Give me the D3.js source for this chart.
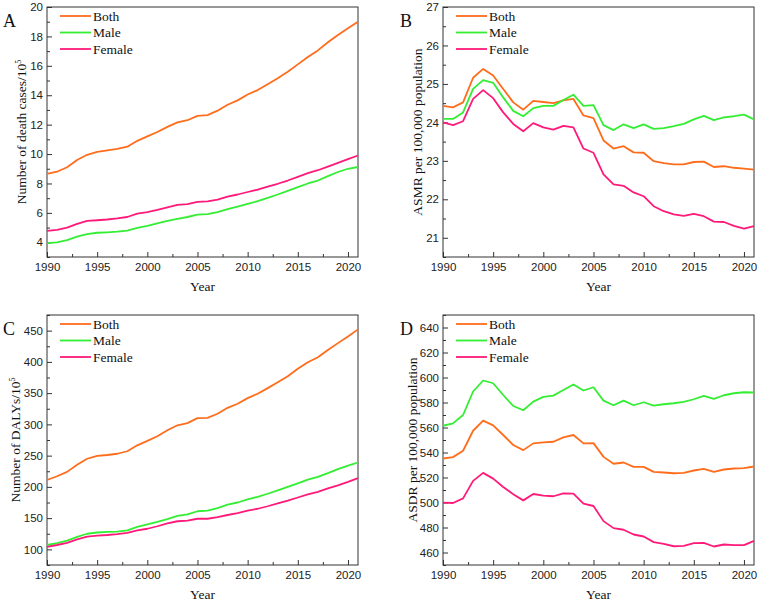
<!DOCTYPE html>
<html>
<head>
<meta charset="utf-8">
<title>Burden trends 1990-2021</title>
<script src="https://cdn.jsdelivr.net/npm/d3@7/dist/d3.min.js"></script>
<style>
    body { margin: 0; background: #fff; }
    svg { font-family: "Liberation Serif", "Times New Roman", serif; }
    .tick text { fill: #222; }
    .tick line { stroke: #333; }
</style>
</head>
<body>
<div id="chart"></div>
<script>
const years = d3.range(1990, 2022);
const seriesNames = ["Both", "Male", "Female"];
const seriesColors = ["#ff6d1c", "#33ee33", "#ff1a7a"];

// A: number of death cases / 10^5
const deathsBoth = [8.65, 8.8, 9.1, 9.6, 9.95, 10.15, 10.25, 10.35, 10.5, 10.9, 11.2, 11.5, 11.85, 12.15, 12.3, 12.6,
    12.65, 12.95, 13.35, 13.65, 14.05, 14.35, 14.75, 15.15, 15.6, 16.1, 16.6, 17.05, 17.6, 18.1, 18.55, 19.0];
const deathsMale = [3.95, 4.0, 4.15, 4.38, 4.55, 4.65, 4.68, 4.72, 4.8, 4.98, 5.12, 5.28, 5.45, 5.6, 5.72, 5.88,
    5.92, 6.05, 6.25, 6.42, 6.62, 6.8, 7.02, 7.25, 7.5, 7.75, 8.0, 8.2, 8.5, 8.78, 9.0, 9.12];
const deathsFemale = [4.78, 4.85, 5.0, 5.25, 5.45, 5.5, 5.55, 5.62, 5.72, 5.95, 6.05, 6.2, 6.38, 6.55, 6.6, 6.75,
    6.78, 6.9, 7.1, 7.25, 7.42, 7.58, 7.78, 7.98, 8.2, 8.45, 8.7, 8.9, 9.15, 9.4, 9.65, 9.9];

// B: ASMR per 100,000
const asmrBoth = [24.43, 24.39, 24.52, 25.16, 25.39, 25.22, 24.87, 24.52, 24.33, 24.56, 24.53, 24.5, 24.57, 24.61, 24.18, 24.11,
    23.53, 23.32, 23.38, 23.22, 23.21, 22.99, 22.94, 22.91, 22.91, 22.97, 22.98, 22.84, 22.86, 22.82, 22.8, 22.77];
const asmrMale = [24.09, 24.09, 24.26, 24.87, 25.1, 25.03, 24.65, 24.3, 24.16, 24.37, 24.43, 24.43, 24.58, 24.72, 24.43, 24.45,
    23.93, 23.8, 23.95, 23.85, 23.95, 23.83, 23.85, 23.9, 23.96, 24.08, 24.17, 24.06, 24.13, 24.16, 24.2, 24.08];
const asmrFemale = [24.0, 23.93, 24.03, 24.61, 24.84, 24.63, 24.26, 23.96, 23.77, 23.98, 23.87, 23.81, 23.91, 23.87, 23.32, 23.21,
    22.65, 22.39, 22.35, 22.18, 22.08, 21.82, 21.69, 21.61, 21.57, 21.62, 21.56, 21.42, 21.41, 21.31, 21.24, 21.3];

// C: number of DALYs / 10^5
const dalysBoth = [211, 217, 224, 235.5, 245, 249.5, 251, 253, 257, 266.5, 273.5, 281, 290.5, 298.5, 302, 310,
    310.5, 317, 326.5, 333, 342, 349, 358, 367.5, 377, 389, 399.5, 407.5, 419, 430, 440.5, 452];
const dalysMale = [107, 110, 114, 120, 125, 127, 128, 128.5, 130.5, 136, 140, 144, 148.5, 153.5, 156, 161,
    162, 166, 171.5, 175, 180, 184, 189, 194.5, 200, 205.5, 211.5, 216, 222, 228.5, 234, 239];
const dalysFemale = [104, 107, 110.5, 116, 120.5, 122, 123, 124.5, 126.5, 130.5, 133, 137, 141.5, 145, 146, 149,
    149, 151.5, 155, 158, 162, 165, 169, 173.5, 178, 183, 188, 192, 197.5, 202.5, 208, 214];

// D: ASDR per 100,000
const asdrBoth = [535.2, 536.3, 541.4, 557.4, 565.5, 561.7, 554, 546, 541.9, 547.3, 548.1, 548.6, 552.1, 554, 547.3, 547.5,
    536.5, 531, 532, 528.5, 528.5, 524.5, 524, 523.4, 523.7, 525.6, 526.9, 524.5, 526.4, 527.2, 527.5, 528.8];
const asdrMale = [561.4, 563.3, 570, 588.8, 597.6, 595.4, 586, 577.2, 573.8, 580.7, 584.5, 585.5, 590, 594.4, 589.6, 592.2,
    581.5, 577.8, 581.5, 577.8, 580.2, 577.5, 578.6, 579.4, 580.5, 582.6, 585.3, 582.9, 585.8, 587.4, 588.2, 588];
const asdrFemale = [499.9, 499.6, 503.3, 517.3, 523.7, 519.1, 512.4, 506.6, 501.7, 506.8, 505.5, 505, 507.3, 507.1, 499.1, 497.2,
    485.1, 479.5, 478.2, 474.4, 472.8, 468.3, 466.9, 465, 465.3, 467.5, 467.7, 464.8, 466.4, 465.9, 465.9, 469.3];

const xMajor = [1990, 1995, 2000, 2005, 2010, 2015, 2020];
const xMinor = [1992.5, 1997.5, 2002.5, 2007.5, 2012.5, 2017.5];

const panels = [
    {tag: "A", left: 47, top: 7, series: [deathsBoth, deathsMale, deathsFemale],
     domain: [3, 20], major: d3.range(4, 21, 2), minor: d3.range(3, 20, 2),
     title: "Number of death cases/10", sup: "5", titleX: 22},
    {tag: "B", left: 443, top: 7, series: [asmrBoth, asmrMale, asmrFemale],
     domain: [20.5, 27], major: d3.range(21, 28, 1), minor: d3.range(20.5, 27, 1),
     title: "ASMR per 100,000 population", sup: null, titleX: 418},
    {tag: "C", left: 47, top: 315, series: [dalysBoth, dalysMale, dalysFemale],
     domain: [75, 475], major: d3.range(100, 451, 50), minor: d3.range(75, 476, 50),
     title: "Number of DALYs/10", sup: "5", titleX: 16},
    {tag: "D", left: 443, top: 315, series: [asdrBoth, asdrMale, asdrFemale],
     domain: [450, 650], major: d3.range(460, 641, 20), minor: d3.range(450, 651, 20),
     title: "ASDR per 100,000 population", sup: null, titleX: 413}
];

const W = 757, H = 602;
const pw = 311, ph = 250;

const svg = d3.select("#chart").append("svg")
    .attr("width", W).attr("height", H);

panels.forEach(p => {
    const x = d3.scaleLinear().domain([1990, 2021]).range([0, pw]);
    const y = d3.scaleLinear().domain(p.domain).range([ph, 0]);

    const g = svg.append("g").attr("transform", `translate(${p.left},${p.top})`);

    // inward ticks, minor first
    g.append("g").attr("transform", `translate(0,${ph})`)
        .call(d3.axisBottom(x).tickValues(xMinor).tickSizeInner(-3).tickSizeOuter(0).tickFormat(""))
        .call(a => a.select(".domain").remove());
    g.append("g").attr("transform", `translate(0,${ph})`)
        .call(d3.axisBottom(x).tickValues(xMajor).tickSizeInner(-5).tickSizeOuter(0).tickPadding(6).tickFormat(d3.format("d")))
        .call(a => a.select(".domain").remove())
        .selectAll("text").style("font-size", "11.5px");

    g.append("g")
        .call(d3.axisLeft(y).tickValues(p.minor).tickSizeInner(-3).tickSizeOuter(0).tickFormat(""))
        .call(a => a.select(".domain").remove());
    g.append("g")
        .call(d3.axisLeft(y).tickValues(p.major).tickSizeInner(-5).tickSizeOuter(0).tickPadding(4).tickFormat(d3.format("d")))
        .call(a => a.select(".domain").remove())
        .selectAll("text").style("font-size", "11.5px");

    // frame
    g.append("rect").attr("width", pw).attr("height", ph)
        .attr("fill", "none").attr("stroke", "#333").attr("stroke-width", 1);

    const line = d3.line().x((d, i) => x(years[i])).y(d => y(d));
    p.series.forEach((s, i) => {
        g.append("path").datum(s)
            .attr("d", line)
            .attr("fill", "none")
            .attr("stroke", seriesColors[i])
            .attr("stroke-width", 1.8)
            .attr("stroke-linejoin", "round");
    });

    // legend
    const lg = g.append("g").attr("transform", "translate(13,9)");
    seriesNames.forEach((name, i) => {
        const row = lg.append("g").attr("transform", `translate(0,${i * 16.5})`);
        row.append("line").attr("x1", 0).attr("x2", 31)
            .attr("stroke", seriesColors[i]).attr("stroke-width", 1.8);
        row.append("text").attr("x", 33).attr("y", 4.5)
            .style("font-size", "13.5px").attr("fill", "#111").text(name);
    });

    // axis titles
    g.append("text").attr("x", pw / 2).attr("y", ph + 34)
        .attr("text-anchor", "middle").style("font-size", "13.5px").attr("fill", "#111")
        .text("Year");

    const t = svg.append("text")
        .attr("transform", `translate(${p.titleX + 4},${p.top + ph / 2}) rotate(-90)`)
        .attr("text-anchor", "middle").style("font-size", "13.5px").attr("fill", "#111");
    t.append("tspan").text(p.title);
    if (p.sup) t.append("tspan").attr("dy", -5).style("font-size", "8px").text(p.sup);

    // panel tag
    svg.append("text").attr("x", p.left - (p.tag === "A" || p.tag === "C" ? 44 : 43) + (p.tag === "B" || p.tag === "D" ? -0 : 0))
        .attr("y", p.top + 20)
        .style("font-size", "18px").attr("fill", "#111").text(p.tag);
});
</script>
</body>
</html>
